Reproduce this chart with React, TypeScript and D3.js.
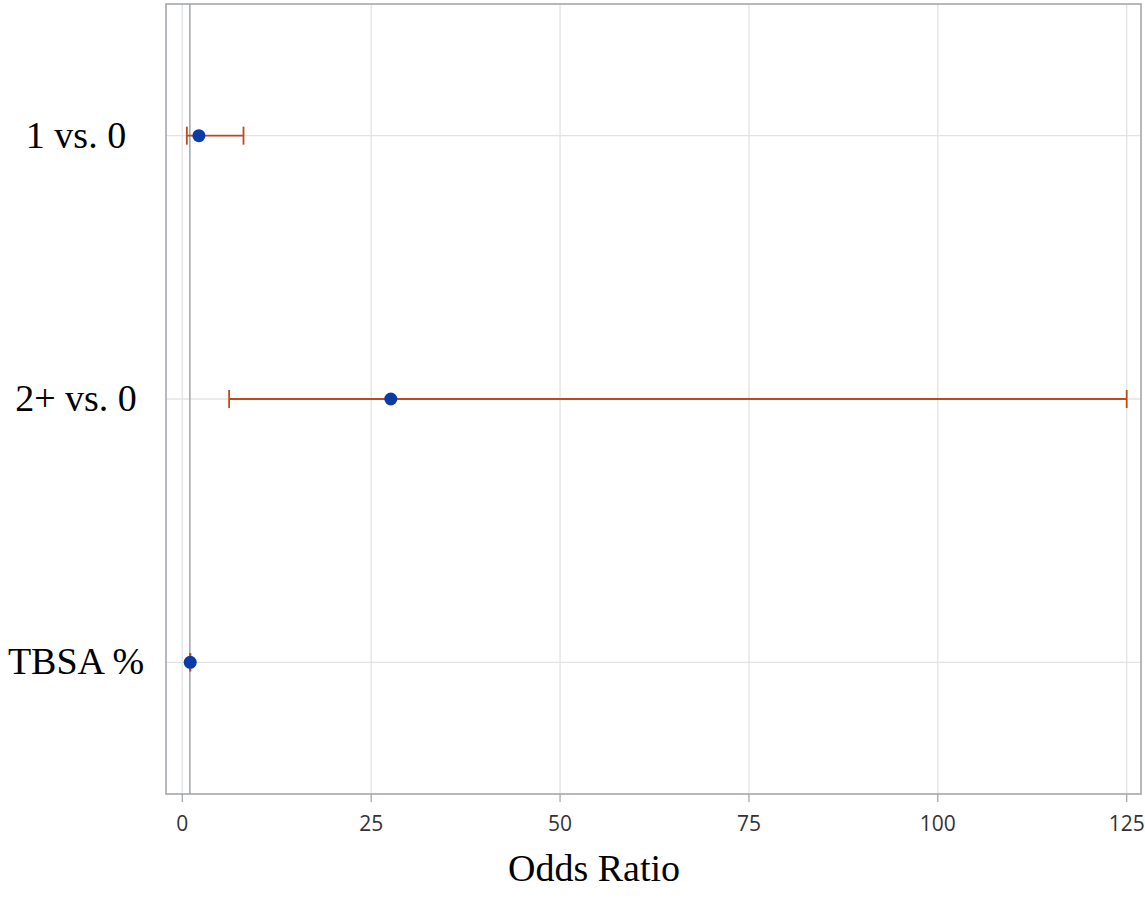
import React from "react";
import * as d3 from "d3";

const categories = ["1 vs. 0", "2+ vs. 0", "TBSA %"];
const oddsRatios = [2.2, 27.6, 1.05];
const lowerCI = [0.6, 6.2, 1.02];
const upperCI = [8.1, 125.0, 1.08];
const xTicks = [0, 25, 50, 75, 100, 125];

const W = 1145;
const H = 914;
const frame = { left: 166, right: 1141, top: 4, bottom: 794 };

export default function App() {
  const x = d3.scaleLinear().domain([0, 125]).range([182.3, 1126.7]);
  const y = d3
    .scaleBand<string>()
    .domain(categories)
    .range([frame.top, frame.bottom])
    .paddingInner(0)
    .paddingOuter(0);
  const cy = (c: string) => (y(c) as number) + y.bandwidth() / 2;
  const capH = 9;
  const errColor = "#bf4a18";
  const ptColor = "#0a3ca8";
  const gridColor = "#e3e3e3";
  const frameColor = "#a3a8ad";

  return (
    <svg
      width={W}
      height={H}
      style={{ position: "absolute", left: 0, top: 0, background: "#fff" }}
    >
      {xTicks.map((t) => (
        <line
          key={"gx" + t}
          x1={x(t)}
          x2={x(t)}
          y1={frame.top}
          y2={frame.bottom}
          stroke={gridColor}
          strokeWidth={1.3}
        />
      ))}
      {categories.map((c) => (
        <line
          key={"gy" + c}
          x1={frame.left}
          x2={frame.right}
          y1={cy(c)}
          y2={cy(c)}
          stroke={gridColor}
          strokeWidth={1.3}
        />
      ))}
      <line
        x1={x(1)}
        x2={x(1)}
        y1={frame.top}
        y2={frame.bottom}
        stroke="#a6abb0"
        strokeWidth={1.6}
      />
      {categories.map((c, i) => (
        <g key={"e" + c} stroke={errColor} strokeWidth={1.8}>
          <line x1={x(lowerCI[i])} x2={x(upperCI[i])} y1={cy(c)} y2={cy(c)} />
          <line
            x1={x(lowerCI[i])}
            x2={x(lowerCI[i])}
            y1={cy(c) - capH}
            y2={cy(c) + capH}
          />
          <line
            x1={x(upperCI[i])}
            x2={x(upperCI[i])}
            y1={cy(c) - capH}
            y2={cy(c) + capH}
          />
        </g>
      ))}
      {categories.map((c, i) => (
        <circle key={"p" + c} cx={x(oddsRatios[i])} cy={cy(c)} r={6.5} fill={ptColor} />
      ))}
      <rect
        x={frame.left}
        y={frame.top}
        width={frame.right - frame.left}
        height={frame.bottom - frame.top}
        fill="none"
        stroke={frameColor}
        strokeWidth={1.6}
      />
      {xTicks.map((t) => (
        <g key={"t" + t}>
          <line
            x1={x(t)}
            x2={x(t)}
            y1={frame.bottom}
            y2={frame.bottom + 8}
            stroke={frameColor}
            strokeWidth={1.3}
          />
          <text
            x={x(t)}
            y={831}
            textAnchor="middle"
            fontFamily="'Open Sans', sans-serif"
            fontSize={21}
            fill="#333"
          >
            {t}
          </text>
        </g>
      ))}
      {categories.map((c) => (
        <text
          key={"yl" + c}
          x={76}
          y={cy(c) + 12}
          textAnchor="middle"
          fontFamily="'Liberation Serif', 'Times New Roman', serif"
          fontSize={38}
          fill="#000"
        >
          {c}
        </text>
      ))}
      <text
        x={594}
        y={881}
        textAnchor="middle"
        fontFamily="'Liberation Serif', 'Times New Roman', serif"
        fontSize={38}
        fill="#000"
      >
        Odds Ratio
      </text>
    </svg>
  );
}
